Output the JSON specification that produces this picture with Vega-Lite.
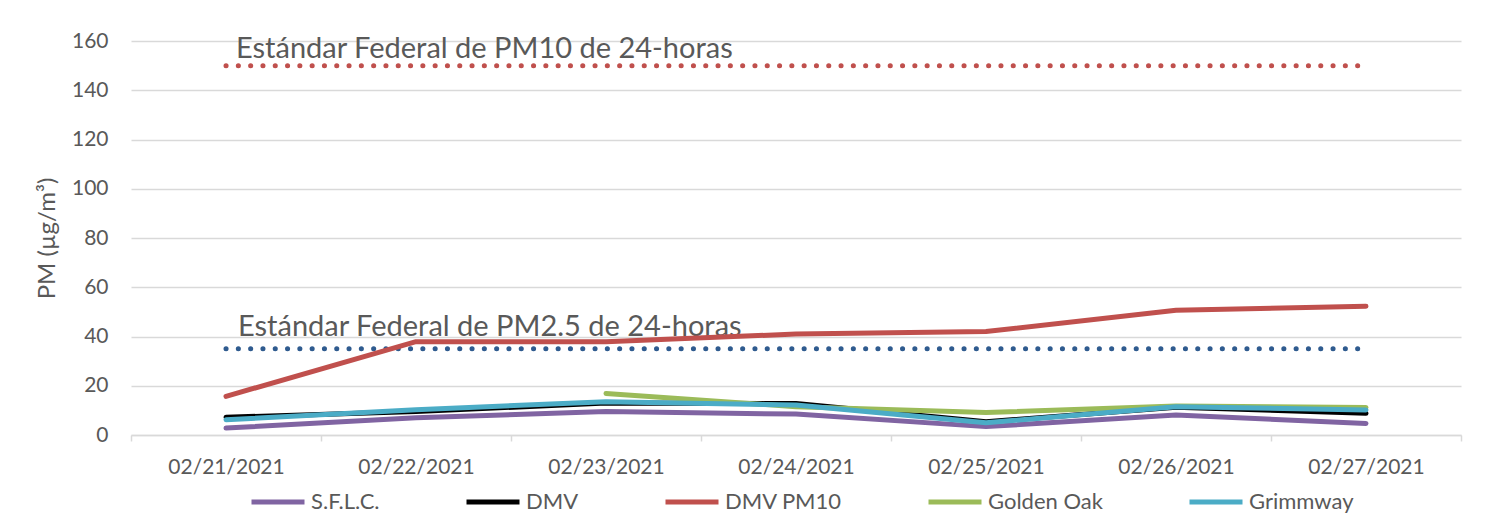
{
  "$schema": "https://vega.github.io/schema/vega-lite/v6.json",
  "width": 1330,
  "height": 394,
  "autosize": {"type": "none"},
  "padding": {"left": 131, "top": 41, "right": 40, "bottom": 94},
  "background": "white",
  "config": {
    "font": "Lato",
    "view": {"stroke": null},
    "axis": {"labelColor": "#595959", "titleColor": "#595959", "labelFont": "Lato", "titleFont": "Lato"}
  },
  "datasets": {
    "series": [
      {"series": "S.F.L.C.", "date": "02/21/2021", "value": 2.8},
      {"series": "S.F.L.C.", "date": "02/22/2021", "value": 7.0},
      {"series": "S.F.L.C.", "date": "02/23/2021", "value": 9.5},
      {"series": "S.F.L.C.", "date": "02/24/2021", "value": 8.5},
      {"series": "S.F.L.C.", "date": "02/25/2021", "value": 3.4},
      {"series": "S.F.L.C.", "date": "02/26/2021", "value": 8.1},
      {"series": "S.F.L.C.", "date": "02/27/2021", "value": 4.7},
      {"series": "DMV", "date": "02/21/2021", "value": 7.2},
      {"series": "DMV", "date": "02/22/2021", "value": 9.5},
      {"series": "DMV", "date": "02/23/2021", "value": 13.0},
      {"series": "DMV", "date": "02/24/2021", "value": 12.8},
      {"series": "DMV", "date": "02/25/2021", "value": 5.4},
      {"series": "DMV", "date": "02/26/2021", "value": 11.3},
      {"series": "DMV", "date": "02/27/2021", "value": 8.8},
      {"series": "DMV PM10", "date": "02/21/2021", "value": 15.7},
      {"series": "DMV PM10", "date": "02/22/2021", "value": 37.9},
      {"series": "DMV PM10", "date": "02/23/2021", "value": 37.9},
      {"series": "DMV PM10", "date": "02/24/2021", "value": 41.0},
      {"series": "DMV PM10", "date": "02/25/2021", "value": 42.0},
      {"series": "DMV PM10", "date": "02/26/2021", "value": 50.7},
      {"series": "DMV PM10", "date": "02/27/2021", "value": 52.3},
      {"series": "Golden Oak", "date": "02/23/2021", "value": 16.9},
      {"series": "Golden Oak", "date": "02/24/2021", "value": 11.5},
      {"series": "Golden Oak", "date": "02/25/2021", "value": 9.1},
      {"series": "Golden Oak", "date": "02/26/2021", "value": 11.8},
      {"series": "Golden Oak", "date": "02/27/2021", "value": 11.2},
      {"series": "Grimmway", "date": "02/21/2021", "value": 6.2},
      {"series": "Grimmway", "date": "02/22/2021", "value": 10.3},
      {"series": "Grimmway", "date": "02/23/2021", "value": 13.5},
      {"series": "Grimmway", "date": "02/24/2021", "value": 12.2},
      {"series": "Grimmway", "date": "02/25/2021", "value": 5.0},
      {"series": "Grimmway", "date": "02/26/2021", "value": 11.5},
      {"series": "Grimmway", "date": "02/27/2021", "value": 10.2}
    ],
    "standards": [
      {"std": "PM10", "date": "02/21/2021", "value": 150, "label": "Estándar Federal de PM10 de 24-horas"},
      {"std": "PM10", "date": "02/27/2021", "value": 150, "label": ""},
      {"std": "PM2.5", "date": "02/21/2021", "value": 35, "label": "Estándar Federal de PM2.5 de 24-horas"},
      {"std": "PM2.5", "date": "02/27/2021", "value": 35, "label": ""}
    ]
  },
  "encoding": {
    "x": {
      "field": "date", "type": "ordinal", "bandPosition": 0.5,
      "scale": {"type": "band", "paddingInner": 0, "paddingOuter": 0},
      "axis": {
        "title": null, "labelAngle": 0, "labelFontSize": 21, "labelPadding": 15,
        "tickBand": "extent", "domainColor": "#d9d9d9", "tickColor": "#d9d9d9",
        "tickSize": 6, "domainWidth": 1.5, "tickWidth": 1.5, "grid": false
      }
    },
    "y": {
      "field": "value", "type": "quantitative",
      "scale": {"domain": [0, 160], "nice": false},
      "axis": {
        "title": "PM (µg/m³)", "values": [0, 20, 40, 60, 80, 100, 120, 140, 160],
        "labelFontSize": 21, "labelPadding": 23, "titleFontSize": 24, "titleFontWeight": "normal",
        "titlePadding": 12, "domain": false, "ticks": false,
        "gridColor": "#d9d9d9", "gridWidth": 1.5
      }
    }
  },
  "layer": [
    {
      "data": {"name": "standards"},
      "mark": {"type": "line", "strokeWidth": 5, "strokeCap": "round", "strokeDash": [0.1, 12.2]},
      "encoding": {
        "detail": {"field": "std"},
        "stroke": {"field": "std", "type": "nominal", "scale": {"domain": ["PM10", "PM2.5"], "range": ["#c0504d", "#2f5b8f"]}, "legend": null}
      }
    },
    {
      "data": {"name": "standards"},
      "transform": [{"filter": "datum.std == 'PM10' && datum.label != ''"}],
      "mark": {"type": "text", "align": "left", "baseline": "alphabetic", "dx": 10, "dy": -8, "fontSize": 29, "color": "#595959", "font": "Lato"},
      "encoding": {"text": {"field": "label"}}
    },
    {
      "data": {"name": "standards"},
      "transform": [{"filter": "datum.std == 'PM2.5' && datum.label != ''"}],
      "mark": {"type": "text", "align": "left", "baseline": "alphabetic", "dx": 12, "dy": -13, "fontSize": 29, "color": "#595959", "font": "Lato"},
      "encoding": {"text": {"field": "label"}}
    },
    {
      "data": {"name": "series"},
      "mark": {"type": "line", "strokeWidth": 5, "strokeCap": "round", "strokeJoin": "round"},
      "encoding": {
        "color": {
          "field": "series", "type": "nominal",
          "scale": {"domain": ["S.F.L.C.", "DMV", "DMV PM10", "Golden Oak", "Grimmway"], "range": ["#8064a2", "#000000", "#c0504d", "#9bbb59", "#4bacc6"]},
          "legend": {
            "title": null, "orient": "none", "legendX": 118, "legendY": 432, "direction": "horizontal", "columns": 5,
            "symbolType": "stroke", "symbolSize": 2809, "symbolStrokeWidth": 5, "labelFontSize": 22,
            "labelColor": "#595959", "labelFont": "Lato", "labelOffset": 4, "columnPadding": 76
          }
        }
      }
    }
  ]
}
